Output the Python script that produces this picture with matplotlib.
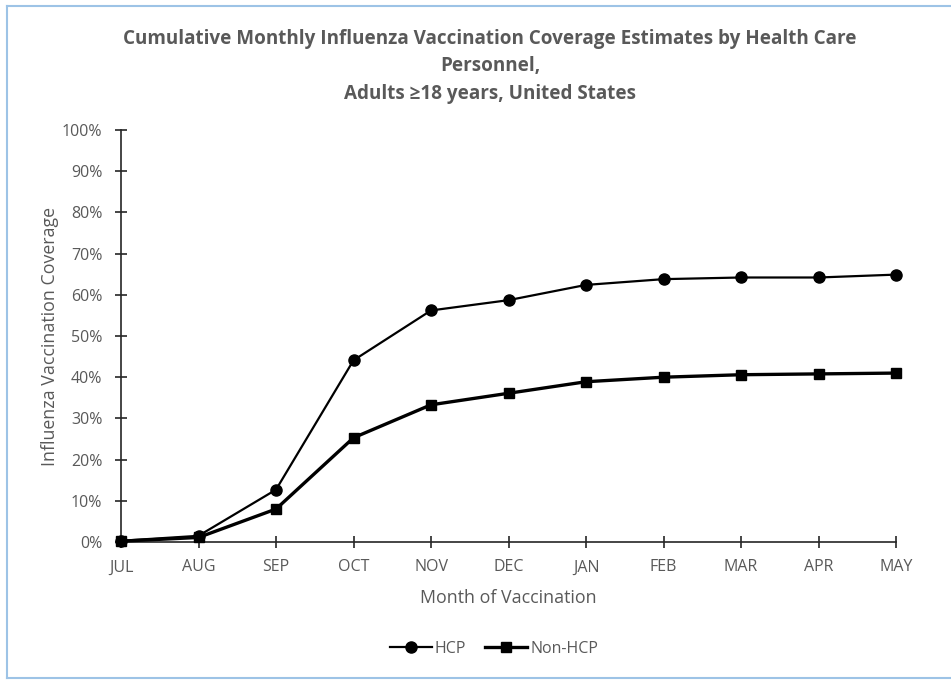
import matplotlib
matplotlib.use("Agg")
import matplotlib.pyplot as plt
from matplotlib.lines import Line2D
from matplotlib.ticker import FuncFormatter

months = ["JUL", "AUG", "SEP", "OCT", "NOV", "DEC", "JAN", "FEB", "MAR", "APR", "MAY"]
hcp = [0.3, 1.5, 12.7, 44.1, 56.2, 58.7, 62.4, 63.8, 64.2, 64.2, 64.9]
non_hcp = [0.2, 1.1, 8.0, 25.3, 33.3, 36.1, 38.9, 40.0, 40.6, 40.8, 41.0]

grey = "#595959"
plt.rcParams["font.family"] = ["Open Sans", "DejaVu Sans"]

fig = plt.figure(figsize=(9.51, 6.8), dpi=100)
ax = fig.add_axes([121 / 951, 1 - 542 / 680, (896 - 121) / 951, (542 - 130) / 680])

x = list(range(len(months)))
ax.plot(x, hcp, color="black", lw=1.6, marker="o", ms=8, label="HCP", clip_on=False, zorder=3)
ax.plot(x, non_hcp, color="black", lw=2.4, marker="s", ms=6.5, label="Non-HCP", clip_on=False, zorder=3)

ax.set_xlim(0, len(months) - 1)
ax.set_ylim(0, 100)
ax.set_xticks(x)
ax.set_xticklabels(months)
ax.set_yticks(range(0, 101, 10))
ax.yaxis.set_major_formatter(FuncFormatter(lambda v, p: f"{v:.0f}%"))

for s in ["top", "right"]:
    ax.spines[s].set_visible(False)
for s in ["left", "bottom"]:
    ax.spines[s].set_color("#262626")
    ax.spines[s].set_linewidth(1.2)

ax.tick_params(axis="both", direction="inout", length=9, width=1.2, color="#262626",
               labelcolor=grey, labelsize=11.5)
ax.tick_params(axis="x", pad=8)
ax.tick_params(axis="y", pad=9)

ax.set_xlabel("Month of Vaccination", fontsize=12.8, color=grey, labelpad=10)
ax.set_ylabel("Influenza Vaccination Coverage", fontsize=12.8, color=grey, labelpad=2)

fig.text(490 / 951, 1 - 29 / 680,
         "Cumulative Monthly Influenza Vaccination Coverage Estimates by Health Care\nPersonnel,\nAdults \u226518 years, United States",
         ha="center", va="top", fontsize=13.6, fontweight="bold", color=grey, linespacing=1.5)

leg = fig.legend(loc="center", bbox_to_anchor=(494 / 951, 1 - 649 / 680), ncol=2, frameon=False,
                 fontsize=11.5, handlelength=2.6, handletextpad=0.2, columnspacing=1.2)
for t in leg.get_texts():
    t.set_color(grey)

# light blue frame around the chart area
border = "#9DC3E6"
fig.add_artist(Line2D([7 / 951, 7 / 951], [1 - 6 / 680, 1 - 678 / 680], color=border, lw=1.5))
fig.add_artist(Line2D([7 / 951, 1.0], [1 - 6 / 680, 1 - 6 / 680], color=border, lw=1.5))
fig.add_artist(Line2D([7 / 951, 1.0], [1 - 678 / 680, 1 - 678 / 680], color=border, lw=1.5))

fig.savefig("out.png", dpi=100)
